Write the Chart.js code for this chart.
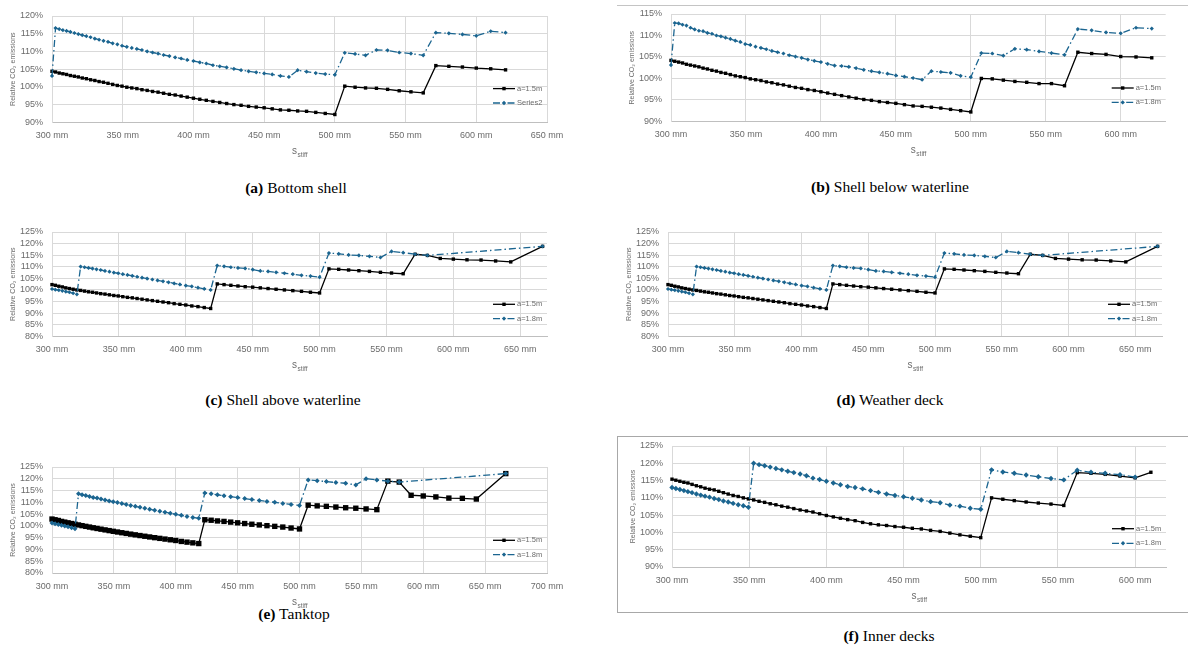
<!DOCTYPE html>
<html>
<head>
<meta charset="utf-8">
<script src="https://cdn.jsdelivr.net/npm/chart.js@4.4.1/dist/chart.umd.min.js"></script>
<style>
body{margin:0;width:1188px;height:651px;background:#fff;position:relative;overflow:hidden;font-family:"Liberation Serif",serif;}
canvas{position:absolute;}
.cap{position:absolute;font-size:15.5px;line-height:18px;transform:translateX(-50%);white-space:nowrap;color:#000;}
.frame{position:absolute;border:1px solid #a8a8a8;}
</style>
</head>
<body>
<div class="frame" style="left:617px;top:5px;width:590px;height:0;border-width:1px 0 0 0;border-color:#c4c4c4"></div>
<div class="frame" style="left:617px;top:436px;width:590px;height:175px"></div>

<div class="cap" style="left:296px;top:179px"><b>(a)</b> Bottom shell</div>
<div class="cap" style="left:890px;top:178px"><b>(b)</b> Shell below waterline</div>
<div class="cap" style="left:283px;top:391px"><b>(c)</b> Shell above waterline</div>
<div class="cap" style="left:890px;top:391px"><b>(d)</b> Weather deck</div>
<div class="cap" style="left:294px;top:605px"><b>(e)</b> Tanktop</div>
<div class="cap" style="left:889px;top:627px"><b>(f)</b> Inner decks</div>

<script>
// stiffener spacing in mm (same x values for every panel)
const sStiff = [
  300.0, 302.5, 305.1, 307.7, 310.3, 313.0, 315.8, 318.6, 321.4, 324.3,
  327.3, 330.3, 333.3, 336.4, 339.6, 342.9, 346.2, 349.5, 352.9, 356.4,
  360.0, 363.6, 367.3, 371.1, 375.0, 378.9, 383.0, 387.1, 391.3, 395.6,
  400.0, 404.5, 409.1, 413.8, 418.6, 423.5, 428.6, 433.7, 439.0, 444.4,
  450.0, 455.7, 461.5, 467.5, 473.7, 480.0, 486.5, 493.2, 500.0, 507.0,
  514.3, 521.7, 529.4, 537.3, 545.5, 553.8, 562.5, 571.4, 580.6, 590.2,
  600.0, 610.2, 620.7, 631.6, 642.9, 654.5, 666.7
];

// relative CO2 emissions in %, one array per panel and frame spacing
const bottomShell15 = [
  104.4, 104.2, 103.9, 103.7, 103.5, 103.2, 103.0, 102.8, 102.5, 102.3,
  102.0, 101.8, 101.5, 101.3, 101.0, 100.7, 100.4, 100.2, 99.9, 99.7,
  99.5, 99.2, 99.0, 98.7, 98.5, 98.2, 97.9, 97.7, 97.4, 97.1,
  96.8, 96.5, 96.2, 95.9, 95.6, 95.3, 95.0, 94.8, 94.5, 94.3,
  94.1, 93.8, 93.5, 93.4, 93.2, 93.1, 92.8, 92.5, 92.2, 100.2,
  99.9, 99.7, 99.6, 99.3, 98.9, 98.6, 98.3, 106.0, 105.8, 105.6,
  105.3, 105.1, 104.8
];
const bottomShell18 = [
  103.1, 116.6, 116.3, 116.0, 115.8, 115.5, 115.2, 114.9, 114.6, 114.3,
  114.0, 113.6, 113.3, 113.0, 112.7, 112.3, 112.0, 111.6, 111.3, 111.0,
  110.7, 110.4, 110.0, 109.7, 109.4, 109.0, 108.7, 108.3, 108.0, 107.6,
  107.3, 106.9, 106.6, 106.1, 105.8, 105.5, 105.1, 104.7, 104.4, 104.1,
  103.8, 103.5, 103.1, 102.8, 104.7, 104.3, 103.9, 103.6, 103.4, 109.6,
  109.3, 108.9, 110.4, 110.3, 109.7, 109.4, 108.9, 115.3, 115.1, 114.8,
  114.4, 115.7, 115.3
];
const shellBelow15 = [
  104.2, 104.0, 103.8, 103.6, 103.3, 103.1, 102.9, 102.7, 102.4, 102.2,
  101.9, 101.7, 101.4, 101.2, 100.9, 100.6, 100.4, 100.2, 99.9, 99.7,
  99.5, 99.2, 99.0, 98.7, 98.5, 98.2, 97.9, 97.7, 97.4, 97.2,
  96.9, 96.6, 96.3, 96.0, 95.7, 95.4, 95.1, 94.9, 94.6, 94.4,
  94.2, 93.9, 93.6, 93.5, 93.3, 93.1, 92.8, 92.5, 92.2, 100.0,
  99.9, 99.6, 99.3, 99.1, 98.8, 98.8, 98.3, 106.1, 105.8, 105.6,
  105.1, 105.0, 104.8
];
const shellBelow18 = [
  103.1, 112.9, 112.8, 112.5, 112.3, 111.8, 111.4, 111.1, 111.0, 110.6,
  110.4, 110.0, 109.8, 109.5, 109.2, 108.8, 108.5, 108.0, 107.8, 107.4,
  107.1, 106.8, 106.4, 106.1, 105.8, 105.4, 105.1, 104.8, 104.4, 104.1,
  103.8, 103.4, 103.0, 102.9, 102.7, 102.4, 102.0, 101.7, 101.4, 101.1,
  100.7, 100.4, 100.1, 99.7, 101.7, 101.5, 101.3, 100.6, 100.3, 105.9,
  105.8, 105.3, 106.9, 106.7, 106.3, 105.9, 105.5, 111.5, 111.2, 110.7,
  110.5, 111.8, 111.6
];
const shellAbove15 = [
  102.3, 102.0, 101.6, 101.3, 100.9, 100.6, 100.3, 100.0, 99.8, 99.5,
  99.2, 99.0, 98.7, 98.4, 98.2, 97.9, 97.6, 97.4, 97.1, 96.8,
  96.6, 96.3, 96.0, 95.7, 95.4, 95.1, 94.8, 94.5, 94.1, 93.8,
  93.5, 93.1, 92.8, 92.4, 92.0, 102.6, 102.3, 102.0, 101.7, 101.4,
  101.2, 100.9, 100.6, 100.3, 100.0, 99.7, 99.4, 99.0, 98.7, 109.1,
  108.9, 108.6, 108.3, 108.0, 107.6, 107.3, 107.0, 115.4, 114.9, 113.6,
  113.3, 113.0, 112.9, 112.5, 112.1, null, 118.8
];
const shellAbove18 = [
  100.4, 100.1, 99.9, 99.6, 99.3, 99.0, 98.6, 98.1, 110.1, 109.8,
  109.5, 109.2, 108.9, 108.6, 108.2, 107.9, 107.5, 107.2, 106.8, 106.5,
  106.1, 105.7, 105.3, 104.9, 104.5, 104.1, 103.7, 103.3, 102.8, 102.4,
  101.9, 101.5, 101.0, 100.5, 100.0, 110.5, 110.2, 109.8, 109.5, 109.3,
  108.8, 108.2, 108.0, 107.6, 107.2, 106.8, 106.3, 106.0, 105.5, 115.9,
  115.6, 115.1, 114.9, 114.5, 114.0, 116.6, 116.1, 115.4, 114.9, null,
  null, null, null, null, null, null, 118.8
];
// (d) shows the same curves as (c)
const weatherDeck15 = [...shellAbove15];
const weatherDeck18 = [...shellAbove18];
const tanktop15 = [
  102.9, 102.6, 102.3, 101.9, 101.6, 101.3, 101.0, 100.7, 100.4, 100.1,
  99.8, 99.5, 99.2, 98.9, 98.6, 98.3, 98.0, 97.7, 97.4, 97.1,
  96.8, 96.5, 96.2, 95.9, 95.6, 95.3, 95.0, 94.7, 94.4, 94.1,
  93.8, 93.4, 93.1, 92.8, 92.5, 102.6, 102.4, 102.1, 101.9, 101.6,
  101.3, 101.0, 100.7, 100.4, 100.1, 99.8, 99.5, 99.1, 98.7, 108.8,
  108.5, 108.3, 108.0, 107.7, 107.5, 107.2, 106.9, 119.0, 118.6, 113.0,
  112.7, 112.3, 111.8, 111.7, 111.4, null, 122.2
];
const tanktop18 = [
  101.2, 100.9, 100.6, 100.3, 100.0, 99.6, 99.2, 98.8, 113.6, 113.2,
  112.9, 112.5, 112.1, 111.8, 111.4, 111.0, 110.6, 110.2, 109.9, 109.5,
  109.1, 108.7, 108.3, 107.9, 107.5, 107.1, 106.6, 106.2, 105.8, 105.4,
  104.9, 104.5, 104.0, 103.6, 103.2, 114.0, 113.6, 113.2, 112.8, 112.4,
  112.0, 111.6, 111.2, 110.8, 110.4, 110.0, 109.5, 109.1, 108.7, 119.5,
  119.2, 118.8, 118.4, 118.1, 117.4, 120.0, 119.5, 119.0, 118.6, null,
  null, null, null, null, null, null, 122.2
];
const innerDecks15 = [
  115.4, 115.1, 114.8, 114.5, 114.3, 113.9, 113.5, 113.2, 112.8, 112.5,
  112.3, 111.9, 111.5, 111.1, 110.7, 110.4, 110.0, 109.7, 109.4, 109.0,
  108.7, 108.3, 108.0, 107.6, 107.3, 106.9, 106.5, 106.2, 105.9, 105.4,
  104.9, 104.5, 104.1, 103.7, 103.4, 102.9, 102.5, 102.2, 102.0, 101.7,
  101.5, 101.2, 101.0, 100.6, 100.3, 99.8, 99.3, 98.9, 98.5, 110.0,
  109.6, 109.2, 108.8, 108.5, 108.2, 107.8, 117.3, 117.1, 116.8, 116.3,
  115.8, 117.4
];
const innerDecks18 = [
  113.0, 112.7, 112.4, 112.1, 111.8, 111.5, 111.1, 110.8, 110.5, 110.2,
  109.8, 109.5, 109.1, 108.8, 108.4, 108.0, 107.7, 107.3, 120.0, 119.6,
  119.3, 118.9, 118.5, 118.1, 117.7, 117.3, 116.9, 116.4, 115.7, 115.3,
  114.8, 114.3, 113.8, 113.3, 113.0, 112.6, 112.1, 111.6, 111.1, 110.7,
  110.3, 109.9, 109.4, 108.9, 108.6, 107.9, 107.6, 107.0, 106.7, 118.1,
  117.5, 117.1, 116.6, 116.1, 115.6, 115.2, 118.0, 117.4, 117.1, 116.7,
  116.0
];

const GREY = '#6b6b6b';
const BLUE = '#1b6590';
const FONT = '"Liberation Sans", "DejaVu Sans", sans-serif';

// plot = target chart area in page pixels
const panels = [
  {plot:{l:52, t:15.7, r:547, b:122}, xMax:650, yMin:90, yMax:120, s1:bottomShell15, s2:bottomShell18, label2:'Series2', rows:[33.7,19.3], big:false, dia:2.1},
  {plot:{l:671, t:14.3, r:1165.7, b:121.7}, xMax:630, yMin:90, yMax:115, s1:shellBelow15, s2:shellBelow18, label2:'a=1.8m', rows:[33.4,19], big:false, dia:2.1},
  {plot:{l:52, t:231.7, r:547, b:336}, xMax:670, yMin:80, yMax:125, s1:shellAbove15, s2:shellAbove18, label2:'a=1.8m', rows:[32,17.7], big:false, dia:2.1},
  {plot:{l:668, t:231.7, r:1162, b:336}, xMax:670, yMin:80, yMax:125, s1:weatherDeck15, s2:weatherDeck18, label2:'a=1.8m', rows:[32,17.7], big:false, dia:2.1},
  {plot:{l:52, t:466.7, r:547, b:572.7}, xMax:700, yMin:80, yMax:125, s1:tanktop15, s2:tanktop18, label2:'a=1.8m', rows:[32.7,18.4], big:true, dia:2.5},
  {plot:{l:672, t:446, r:1166, b:567}, xMax:620, yMin:90, yMax:125, s1:innerDecks15, s2:innerDecks18, label2:'a=1.8m', rows:[38.3,23.7], big:false, dia:2.7}
];

function pts(ys){ return sStiff.map((x,i)=>({x, y:ys[i]})).filter(p=>p.y!=null); }

// x-axis title with subscript
const xTitle = {id:'xTitle', afterDraw(chart){
  const {ctx, chartArea:a} = chart;
  ctx.save(); ctx.fillStyle = GREY; ctx.textBaseline = 'alphabetic';
  ctx.font = '10px '+FONT; const w1 = ctx.measureText('s').width;
  ctx.font = '6.5px '+FONT; const w2 = ctx.measureText('stiff').width;
  const x = (a.left+a.right)/2 - (w1+w2)/2, y = a.bottom + 32;
  ctx.font = '10px '+FONT; ctx.fillText('s', x, y);
  ctx.font = '6.5px '+FONT; ctx.fillText('stiff', x+w1+0.5, y+2.5);
  ctx.restore();
}};

// legend inside the plot, right side
const sideLegend = {id:'sideLegend', afterDraw(chart, args, opts){
  const {ctx, chartArea:a} = chart;
  chart.data.datasets.forEach((ds,i)=>{
    const y = a.bottom - opts.rows[i], x0 = a.right - 54, x1 = a.right - 32, xm = (x0+x1)/2;
    ctx.save();
    ctx.strokeStyle = ds.borderColor; ctx.lineWidth = ds.borderWidth; ctx.setLineDash(ds.borderDash || []);
    ctx.beginPath(); ctx.moveTo(x0,y); ctx.lineTo(x1,y); ctx.stroke(); ctx.setLineDash([]);
    ctx.fillStyle = ds.backgroundColor;
    if(ds.pointStyle==='rect'){ const h = 2.4*Math.SQRT1_2; ctx.fillRect(xm-h, y-h, 2*h, 2*h); }
    else { const r = 2.2; ctx.beginPath(); ctx.moveTo(xm,y-r); ctx.lineTo(xm+r,y); ctx.lineTo(xm,y+r); ctx.lineTo(xm-r,y); ctx.closePath(); ctx.fill(); }
    ctx.fillStyle = GREY; ctx.font = '7.5px '+FONT; ctx.textBaseline = 'middle';
    ctx.fillText(ds.label, a.right - 30, y);
    ctx.restore();
  });
}};

panels.forEach(p=>{
  const left = p.plot.l - 52, top = p.plot.t - 16;
  const w = Math.round(p.plot.r - left + 30), h = Math.round(p.plot.b - top + 48);
  const cv = document.createElement('canvas');
  cv.width = w; cv.height = h;
  cv.style.left = left+'px'; cv.style.top = top+'px';
  document.body.appendChild(cv);
  const xH = top + h - p.plot.b;
  new Chart(cv, {
    type:'line',
    data:{datasets:[
      {label:'a=1.5m', data:pts(p.s1), order:1, clip:false, borderColor:'#000', backgroundColor:'#000', borderWidth:1.3,
       pointStyle:'rect', pointRadius:p.big?3.8:2.4, pointBorderWidth:0},
      {label:p.label2, data:pts(p.s2), order:0, clip:false, borderColor:BLUE, backgroundColor:BLUE, borderWidth:1.3,
       borderDash:[7,3,1.5,3], pointStyle:'rectRot', pointRadius:p.dia, pointBorderWidth:0}
    ]},
    options:{
      responsive:false, animation:false,
      layout:{padding:{left:0, top:p.plot.t - top, right:left + w - p.plot.r, bottom:0}},
      plugins:{legend:{display:false}, tooltip:{enabled:false}, sideLegend:{rows:p.rows}},
      scales:{
        x:{type:'linear', min:300, max:p.xMax,
           ticks:{stepSize:50, includeBounds:false, autoSkip:false, maxRotation:0, padding:8, color:GREY,
                  font:{size:9, family:FONT}, callback:v=>v+' mm'},
           grid:{color:'#d9d9d9', drawTicks:false}, border:{color:'#bfbfbf'},
           afterFit:s=>{ s.height = xH; }},
        y:{min:p.yMin, max:p.yMax,
           ticks:{stepSize:5, autoSkip:false, padding:9, color:GREY, font:{size:9, family:FONT}, callback:v=>v+'%'},
           grid:{color:'#d9d9d9', drawTicks:false}, border:{color:'#d9d9d9'},
           title:{display:true, text:'Relative CO₂ emissions', color:GREY, font:{size:7, family:FONT}, padding:{top:9.3, bottom:0}},
           afterFit:s=>{ s.width = 52; }}
      }
    },
    plugins:[xTitle, sideLegend]
  });
});
</script>
</body>
</html>
